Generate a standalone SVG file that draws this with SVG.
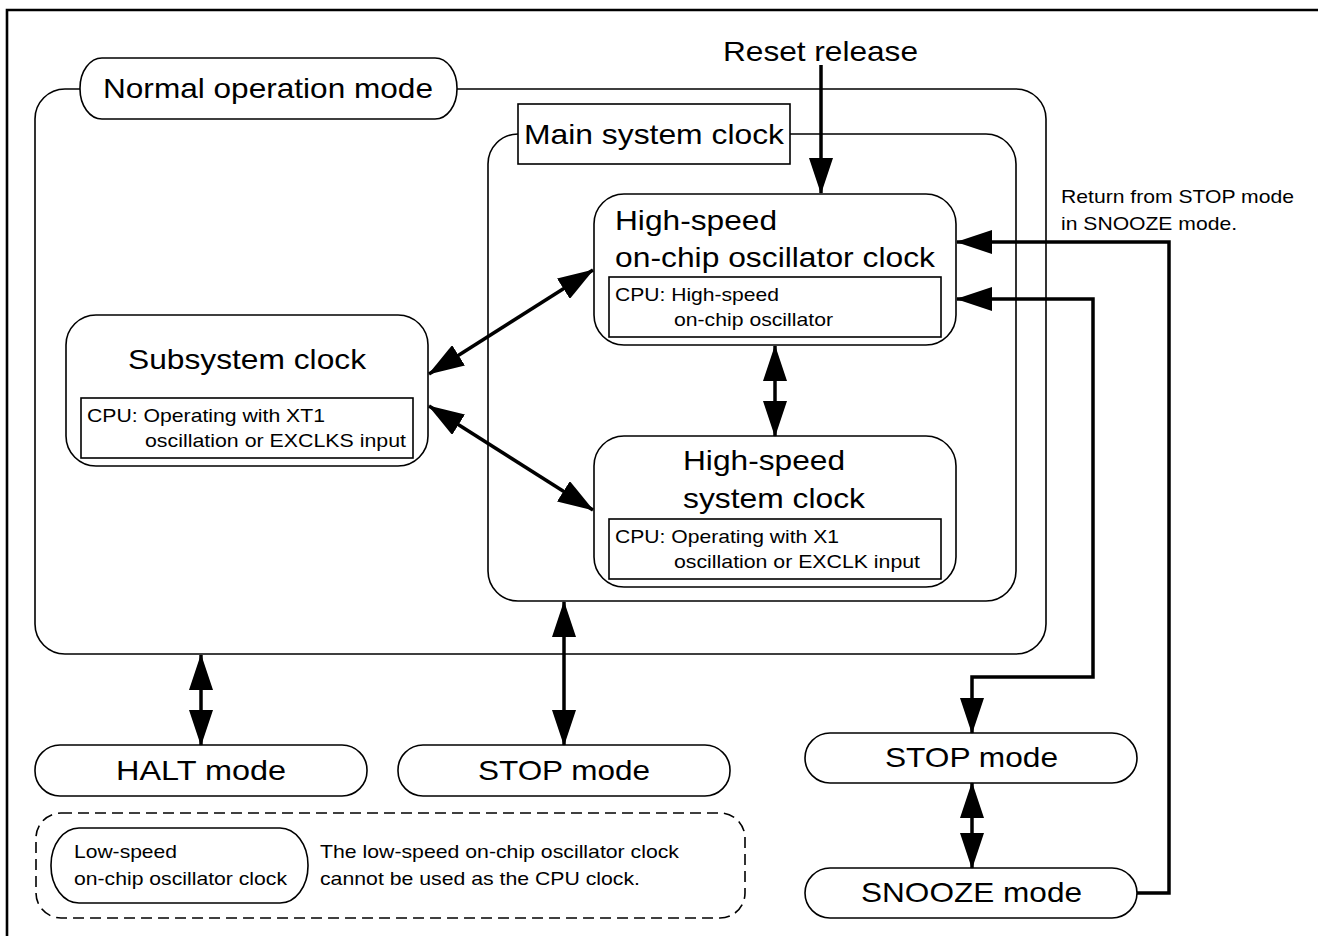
<svg xmlns="http://www.w3.org/2000/svg" width="1318" height="936" viewBox="0 0 1318 936">
<defs>
<style>
.box{fill:#fff;stroke:#000;stroke-width:1.6}
.nf{fill:none;stroke:#000;stroke-width:1.6}
.con{fill:none;stroke:#000;stroke-width:3.5}
.dash{fill:none;stroke:#000;stroke-width:1.6;stroke-dasharray:11 6}
text{font-family:"Liberation Sans",Arial,sans-serif;fill:#000}
.big{font-size:28px}
.sm{font-size:19px}
</style>
<marker id="ah" viewBox="0 0 36 24" refX="35" refY="12" markerWidth="36" markerHeight="24" markerUnits="userSpaceOnUse" orient="auto-start-reverse">
<path d="M0,0 L36,12 L0,24 Z" fill="#000"/>
</marker>
</defs>
<rect width="1318" height="936" fill="#fff"/>
<path d="M7,936 V10 H1318" fill="none" stroke="#000" stroke-width="2.6"/>

<g id="normal-operation-mode">
<rect class="nf" x="35" y="89" width="1011" height="565" rx="30"/>
<rect class="box" x="80" y="58" width="377" height="61" rx="22" ry="30"/>
<text class="big" x="103" y="98" textLength="330" lengthAdjust="spacingAndGlyphs">Normal operation mode</text>
</g>

<g id="main-system-clock">
<rect class="nf" x="488" y="134" width="528" height="467" rx="30"/>
<rect class="box" x="518" y="104" width="272" height="60"/>
<text class="big" x="524" y="144" textLength="260" lengthAdjust="spacingAndGlyphs">Main system clock</text>
</g>

<g id="reset-release">
<text class="big" x="723" y="61" textLength="195" lengthAdjust="spacingAndGlyphs">Reset release</text>
</g>

<g id="hs-onchip">
<rect class="box" x="594" y="194" width="362" height="151" rx="30"/>
<text class="big" x="615" y="230" textLength="162" lengthAdjust="spacingAndGlyphs">High-speed</text>
<text class="big" x="615" y="267" textLength="320" lengthAdjust="spacingAndGlyphs">on-chip oscillator clock</text>
<rect class="box" x="609" y="277" width="332" height="60"/>
<text class="sm" x="615" y="301" textLength="164" lengthAdjust="spacingAndGlyphs">CPU: High-speed</text>
<text class="sm" x="674" y="326" textLength="159" lengthAdjust="spacingAndGlyphs">on-chip oscillator</text>
</g>

<g id="hs-system">
<rect class="box" x="594" y="436" width="362" height="151" rx="30"/>
<text class="big" x="683" y="470" textLength="162" lengthAdjust="spacingAndGlyphs">High-speed</text>
<text class="big" x="683" y="508" textLength="182" lengthAdjust="spacingAndGlyphs">system clock</text>
<rect class="box" x="609" y="519" width="332" height="60"/>
<text class="sm" x="615" y="543" textLength="224" lengthAdjust="spacingAndGlyphs">CPU: Operating with X1</text>
<text class="sm" x="674" y="568" textLength="246" lengthAdjust="spacingAndGlyphs">oscillation or EXCLK input</text>
</g>

<g id="subsystem-clock">
<rect class="box" x="66" y="315" width="362" height="151" rx="30"/>
<text class="big" x="128" y="369" textLength="238" lengthAdjust="spacingAndGlyphs">Subsystem clock</text>
<rect class="box" x="81" y="398" width="332" height="60"/>
<text class="sm" x="87" y="422" textLength="238" lengthAdjust="spacingAndGlyphs">CPU: Operating with XT1</text>
<text class="sm" x="145" y="447" textLength="261" lengthAdjust="spacingAndGlyphs">oscillation or EXCLKS input</text>
</g>

<g id="halt-mode">
<rect class="box" x="35" y="745" width="332" height="51" rx="25"/>
<text class="big" x="116" y="780" textLength="170" lengthAdjust="spacingAndGlyphs">HALT mode</text>
</g>

<g id="stop-mode-left">
<rect class="box" x="398" y="745" width="332" height="51" rx="25"/>
<text class="big" x="478" y="780" textLength="172" lengthAdjust="spacingAndGlyphs">STOP mode</text>
</g>

<g id="stop-mode-right">
<rect class="box" x="805" y="733" width="332" height="50" rx="25"/>
<text class="big" x="885" y="767" textLength="173" lengthAdjust="spacingAndGlyphs">STOP mode</text>
</g>

<g id="snooze-mode">
<rect class="box" x="805" y="868" width="332" height="50" rx="25"/>
<text class="big" x="861" y="902" textLength="221" lengthAdjust="spacingAndGlyphs">SNOOZE mode</text>
</g>

<g id="legend">
<rect class="dash" x="36" y="813" width="709" height="105" rx="25"/>
<rect class="box" x="51" y="828" width="257" height="75" rx="28" ry="37"/>
<text class="sm" x="74" y="858" textLength="103" lengthAdjust="spacingAndGlyphs">Low-speed</text>
<text class="sm" x="74" y="885" textLength="213" lengthAdjust="spacingAndGlyphs">on-chip oscillator clock</text>
<text class="sm" x="320" y="858" textLength="359" lengthAdjust="spacingAndGlyphs">The low-speed on-chip oscillator clock</text>
<text class="sm" x="320" y="885" textLength="320" lengthAdjust="spacingAndGlyphs">cannot be used as the CPU clock.</text>
</g>

<g id="snooze-note">
<text class="sm" x="1061" y="203" textLength="233" lengthAdjust="spacingAndGlyphs">Return from STOP mode</text>
<text class="sm" x="1061" y="230" textLength="176" lengthAdjust="spacingAndGlyphs">in SNOOZE mode.</text>
</g>

<g id="connectors">
<line class="con" x1="821" y1="65" x2="821" y2="193" marker-end="url(#ah)"/>
<line class="con" x1="593" y1="270" x2="429" y2="374" marker-start="url(#ah)" marker-end="url(#ah)"/>
<line class="con" x1="429" y1="406" x2="593" y2="510" marker-start="url(#ah)" marker-end="url(#ah)"/>
<line class="con" x1="775" y1="346" x2="775" y2="436" marker-start="url(#ah)" marker-end="url(#ah)"/>
<line class="con" x1="201" y1="655" x2="201" y2="745" marker-start="url(#ah)" marker-end="url(#ah)"/>
<line class="con" x1="564" y1="602" x2="564" y2="745" marker-start="url(#ah)" marker-end="url(#ah)"/>
<line class="con" x1="972" y1="783" x2="972" y2="868" marker-start="url(#ah)" marker-end="url(#ah)"/>
<path class="con" d="M1137,893 H1169 V242 H957" marker-end="url(#ah)"/>
<path class="con" d="M957,299 H1093 V677 H972 V733" marker-start="url(#ah)" marker-end="url(#ah)"/>
</g>
</svg>
